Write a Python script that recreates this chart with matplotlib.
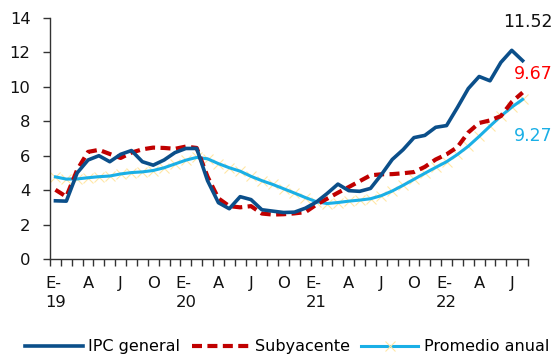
import numpy as np
import matplotlib
matplotlib.use("Agg")
import matplotlib.pyplot as plt
from matplotlib.legend_handler import HandlerTuple

# Monthly inflation, January 2019 - August 2022 (%)
ipc_general = [3.38, 3.36, 5.00, 5.75, 6.00, 5.65, 6.08, 6.30, 5.65, 5.45, 5.75, 6.18,
               6.42, 6.42, 4.55, 3.27, 2.92, 3.62, 3.45, 2.86, 2.78, 2.70, 2.72, 2.95,
               3.30, 3.80, 4.35, 3.97, 3.93, 4.10, 4.90, 5.78, 6.35, 7.05, 7.18, 7.65,
               7.75, 8.80, 9.90, 10.60, 10.35, 11.42, 12.12, 11.52]
subyacente = [4.02, 3.62, 5.18, 6.22, 6.34, 6.10, 5.87, 6.18, 6.37, 6.47, 6.45, 6.40,
              6.53, 6.45, 4.78, 3.52, 3.07, 3.00, 3.07, 2.64, 2.58, 2.60, 2.65, 2.72,
              3.15, 3.50, 3.85, 4.18, 4.52, 4.86, 4.92, 4.93, 4.98, 5.05, 5.35, 5.78,
              6.08, 6.50, 7.35, 7.90, 8.05, 8.30, 9.12, 9.67]
promedio_anual = [4.77, 4.64, 4.65, 4.72, 4.78, 4.82, 4.94, 5.02, 5.06, 5.14, 5.30, 5.52,
                  5.74, 5.90, 5.82, 5.54, 5.30, 5.10, 4.80, 4.55, 4.33, 4.08, 3.83, 3.57,
                  3.33, 3.22, 3.28, 3.36, 3.42, 3.50, 3.68, 3.95, 4.28, 4.63, 4.98, 5.32,
                  5.65, 6.07, 6.55, 7.12, 7.72, 8.30, 8.82, 9.27]

tick_labels = ["E-\n19", "A", "J", "O", "E-\n20", "A", "J", "O",
               "E-\n21", "A", "J", "O", "E-\n22", "A", "J"]
series_names = ["IPC general", "Subyacente", "Promedio anual"]

c_ipc = "#0B4F8A"
c_sub = "#C00000"
c_prom = "#1AAFE6"
c_mark = "#FFE7A6"

plt.rcParams["font.family"] = ["DejaVu Sans"]

fig = plt.figure(figsize=(5.57, 3.56), dpi=100)
ax = fig.add_axes([0.0898, 0.2725, 0.8582, 0.677])

x = np.arange(len(ipc_general))

mark, = ax.plot(x, promedio_anual, linestyle="none", marker="x", markersize=7.5,
                markeredgewidth=0.8, color=c_mark, zorder=1)
l_prom, = ax.plot(x, promedio_anual, color=c_prom, lw=2.2, zorder=2)
l_sub, = ax.plot(x, subyacente, color=c_sub, lw=3.0, linestyle=(0, (2.4, 1.3)), zorder=3)
l_ipc, = ax.plot(x, ipc_general, color=c_ipc, lw=2.6, zorder=4)

# end-of-series value labels
fs_lab = 12.5
ax.annotate(f"{ipc_general[-1]:.2f}", xy=(x[-1], ipc_general[-1]), xytext=(5, 39),
            textcoords="offset pixels", ha="center", va="center",
            fontsize=fs_lab, color="#111111", annotation_clip=False)
ax.annotate(f"{subyacente[-1]:.2f}", xy=(x[-1], subyacente[-1]), xytext=(11, 19),
            textcoords="offset pixels", ha="center", va="center",
            fontsize=fs_lab, color="#FF0000", annotation_clip=False)
ax.annotate(f"{promedio_anual[-1]:.2f}", xy=(x[-1], promedio_anual[-1]), xytext=(11, -37),
            textcoords="offset pixels", ha="center", va="center",
            fontsize=fs_lab, color=c_prom, annotation_clip=False)

ax.set_xlim(-0.5, len(x) - 0.5)
ax.set_ylim(0, 14)
ax.set_yticks(np.arange(0, 15, 2))

ax.set_xticks(np.arange(0, len(x), 3))
ax.set_xticklabels(tick_labels, multialignment="left", linespacing=1.4)
ax.set_xticks(np.arange(-0.5, len(x), 1), minor=True)

axis_col = "#333333"
for side in ("top", "right"):
    ax.spines[side].set_visible(False)
for side in ("left", "bottom"):
    ax.spines[side].set_color(axis_col)
    ax.spines[side].set_linewidth(1.0)

ax.tick_params(axis="x", which="major", length=0, pad=12, labelsize=11.8, colors="#111111")
ax.tick_params(axis="x", which="minor", length=5, width=1.0, direction="out", color=axis_col)
ax.tick_params(axis="y", which="major", length=5, width=1.0, direction="out", color=axis_col,
               pad=9, labelsize=11.8, labelcolor="#111111")

fig.legend([l_ipc, l_sub, (l_prom, mark)], series_names,
           handler_map={tuple: HandlerTuple(ndivide=1)},
           loc="center", bbox_to_anchor=(0.516, 0.026), ncol=3, frameon=False,
           fontsize=11.5, handlelength=3.6, handletextpad=0.35, columnspacing=0.7,
           borderaxespad=0, borderpad=0)

fig.savefig("out.png", dpi=100)
